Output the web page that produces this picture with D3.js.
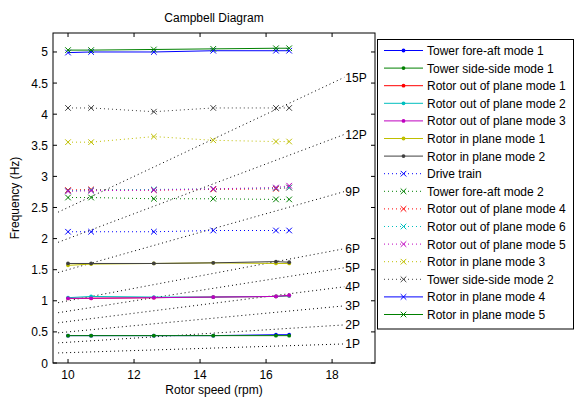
<!DOCTYPE html>
<html>
<head>
<meta charset="utf-8">
<script src="https://cdn.jsdelivr.net/npm/d3@7"></script>
<style>
  body { margin: 0; background: #fff; }
  svg text { font-family: "Liberation Sans", Arial, sans-serif; fill: #000; }
</style>
</head>
<body>
<svg id="chart" width="576" height="398"></svg>
<script>
// rotor speeds where the modes were computed (rpm)
const rpm = [10, 10.7, 12.6, 14.4, 16.3, 16.7];

const modeNames = [
  "Tower fore-aft mode 1", "Tower side-side mode 1", "Rotor out of plane mode 1",
  "Rotor out of plane mode 2", "Rotor out of plane mode 3", "Rotor in plane mode 1",
  "Rotor in plane mode 2", "Drive train", "Tower fore-aft mode 2",
  "Rotor out of plane mode 4", "Rotor out of plane mode 6", "Rotor out of plane mode 5",
  "Rotor in plane mode 3", "Tower side-side mode 2", "Rotor in plane mode 4",
  "Rotor in plane mode 5"
];

// frequencies (Hz), one array per mode, in legend order
const towerFA1 = [0.44, 0.44, 0.44, 0.44, 0.455, 0.455];
const towerSS1 = [0.44, 0.44, 0.44, 0.44, 0.44, 0.44];
const rop1 = [1.04, 1.04, 1.05, 1.06, 1.07, 1.08];
const rop2 = [1.05, 1.07, 1.06, 1.06, 1.07, 1.08];
const rop3 = [1.04, 1.04, 1.05, 1.06, 1.07, 1.09];
const rip1 = [1.57, 1.59, 1.60, 1.61, 1.60, 1.60];
const rip2 = [1.60, 1.60, 1.60, 1.61, 1.63, 1.62];
const driveTrain = [2.11, 2.11, 2.11, 2.13, 2.13, 2.13];
const towerFA2 = [2.66, 2.66, 2.64, 2.64, 2.63, 2.63];
const rop4 = [2.78, 2.79, 2.78, 2.79, 2.80, 2.82];
const rop6 = [2.77, 2.78, 2.79, 2.80, 2.81, 2.82];
const rop5 = [2.76, 2.77, 2.78, 2.80, 2.82, 2.85];
const rip3 = [3.55, 3.55, 3.64, 3.58, 3.56, 3.56];
const towerSS2 = [4.10, 4.10, 4.04, 4.10, 4.10, 4.10];
const rip4 = [4.99, 5.00, 5.00, 5.02, 5.02, 5.02];
const rip5 = [5.03, 5.03, 5.04, 5.05, 5.06, 5.06];

const modeValues = [towerFA1, towerSS1, rop1, rop2, rop3, rip1, rip2, driveTrain,
  towerFA2, rop4, rop6, rop5, rip3, towerSS2, rip4, rip5];

// line styles per mode: '-.' = solid with dots, ':x' = dotted with crosses, '-x' = solid with crosses
const modeStyles = ["-.", "-.", "-.", "-.", "-.", "-.", "-.",
  ":x", ":x", ":x", ":x", ":x", ":x", ":x", "-x", "-x"];

// harmonics of the rotor speed and the rpm span they are drawn over
const harmonics = [1, 2, 3, 4, 5, 6, 9, 12, 15];
const harmonicSpan = [9.7, 18.37];

const xTicks = [10, 12, 14, 16, 18];
const yTicks = [0, 0.5, 1, 1.5, 2, 2.5, 3, 3.5, 4, 4.5, 5];

const palette = ["#0000ff", "#008000", "#ff0000", "#00bfbf", "#bf00bf", "#bfbf00", "#404040"];

const svg = d3.select("#chart");
const plotL = 53, plotR = 375, plotT = 33, plotB = 363;

const x = d3.scaleLinear().domain([9.545, 19.3]).range([plotL, plotR]);
const y = d3.scaleLinear().domain([0, 5.305]).range([plotB, plotT]);

const color = i => palette[i % palette.length];

// harmonic lines (k:)
const harm = svg.append("g");
harmonics.forEach(n => {
  const pts = harmonicSpan.map(r => [r, n * r / 60]);
  harm.append("line")
    .attr("x1", x(pts[0][0])).attr("y1", y(pts[0][1]))
    .attr("x2", x(pts[1][0])).attr("y2", y(pts[1][1]))
    .attr("stroke", "#000").attr("stroke-width", 1)
    .attr("stroke-dasharray", "1,3");
  harm.append("text")
    .attr("x", x(pts[1][0]) + 1).attr("y", y(pts[1][1]) + 4.5)
    .style("font-size", "12px")
    .text(n + "P");
});

const line = d3.line().x(d => x(d[0])).y(d => y(d[1]));

function drawMarker(g, style, cx, cy, c) {
  if (style.endsWith(".")) {
    g.append("circle").attr("cx", cx).attr("cy", cy).attr("r", 1.9).attr("fill", c);
  } else {
    const s = 2.8;
    g.append("path")
      .attr("d", `M${cx - s},${cy - s}L${cx + s},${cy + s}M${cx - s},${cy + s}L${cx + s},${cy - s}`)
      .attr("stroke", c).attr("stroke-width", 1).attr("fill", "none");
  }
}

// mode curves
const modes = svg.append("g");
modeValues.forEach((vals, i) => {
  const c = color(i);
  const st = modeStyles[i];
  const pts = rpm.map((r, j) => [r, vals[j]]);
  const g = modes.append("g");
  g.append("path")
    .attr("d", line(pts))
    .attr("fill", "none")
    .attr("stroke", c)
    .attr("stroke-width", 1)
    .attr("stroke-dasharray", st.startsWith(":") ? "1,3" : null);
  pts.forEach(p => drawMarker(g, st, x(p[0]), y(p[1]), c));
});

// axes box with inward ticks on all sides
const axes = svg.append("g");
axes.append("rect")
  .attr("x", plotL).attr("y", plotT)
  .attr("width", plotR - plotL).attr("height", plotB - plotT)
  .attr("fill", "none").attr("stroke", "#000").attr("stroke-width", 1);

const tl = 4;
xTicks.forEach(t => {
  axes.append("line").attr("x1", x(t)).attr("x2", x(t)).attr("y1", plotB).attr("y2", plotB - tl).attr("stroke", "#000");
  axes.append("line").attr("x1", x(t)).attr("x2", x(t)).attr("y1", plotT).attr("y2", plotT + tl).attr("stroke", "#000");
  axes.append("text").attr("x", x(t)).attr("y", plotB + 16)
    .attr("text-anchor", "middle").style("font-size", "12px").text(t);
});
yTicks.forEach(t => {
  axes.append("line").attr("x1", plotL).attr("x2", plotL + tl).attr("y1", y(t)).attr("y2", y(t)).attr("stroke", "#000");
  axes.append("line").attr("x1", plotR).attr("x2", plotR - tl).attr("y1", y(t)).attr("y2", y(t)).attr("stroke", "#000");
  axes.append("text").attr("x", plotL - 5).attr("y", y(t) + 4.5)
    .attr("text-anchor", "end").style("font-size", "12px").text(t);
});

svg.append("text")
  .attr("x", (plotL + plotR) / 2).attr("y", 22)
  .attr("text-anchor", "middle").style("font-size", "12px")
  .text("Campbell Diagram");

svg.append("text")
  .attr("x", (plotL + plotR) / 2).attr("y", 394)
  .attr("text-anchor", "middle").style("font-size", "12px")
  .text("Rotor speed (rpm)");

svg.append("text")
  .attr("transform", `translate(19,${(plotT + plotB) / 2}) rotate(-90)`)
  .attr("text-anchor", "middle").style("font-size", "12px")
  .text("Frequency (Hz)");

// legend
const lg = svg.append("g");
lg.append("rect")
  .attr("x", 377.5).attr("y", 39.5).attr("width", 196).attr("height", 289.5)
  .attr("fill", "#fff").attr("stroke", "#000").attr("stroke-width", 1);

modeNames.forEach((name, i) => {
  const yy = 50.5 + i * 17.6;
  const c = color(i);
  const st = modeStyles[i];
  lg.append("line")
    .attr("x1", 384).attr("x2", 423).attr("y1", yy).attr("y2", yy)
    .attr("stroke", c).attr("stroke-width", 1)
    .attr("stroke-dasharray", st.startsWith(":") ? "1,3" : null);
  drawMarker(lg, st, 403.5, yy, c);
  lg.append("text")
    .attr("x", 427).attr("y", yy + 4.5)
    .style("font-size", "12px")
    .text(name);
});
</script>
</body>
</html>
